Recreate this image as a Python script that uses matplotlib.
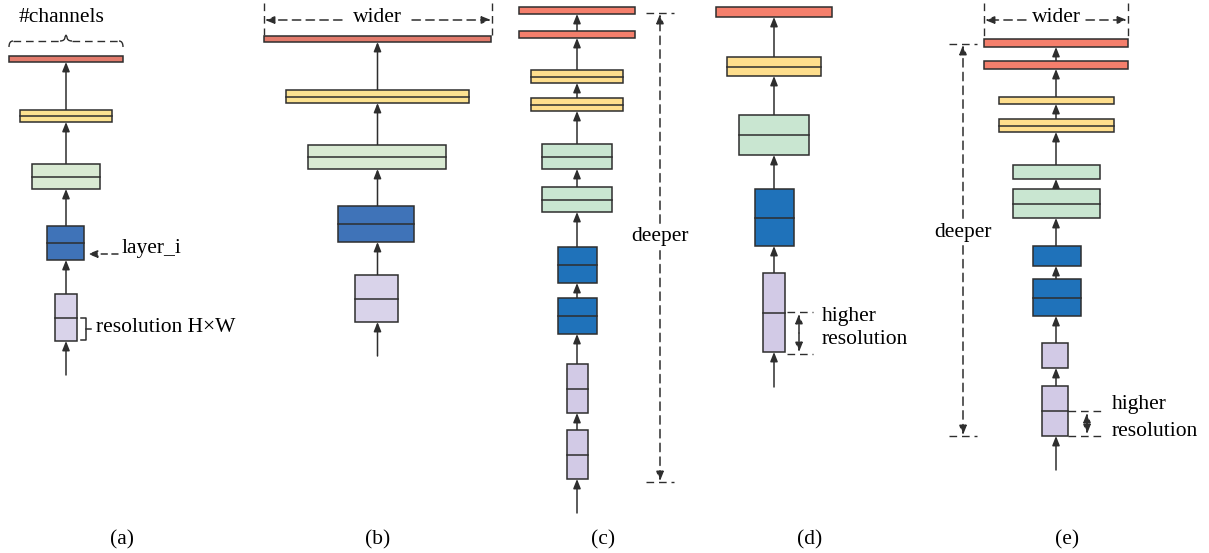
import matplotlib.pyplot as plt
from matplotlib.patches import Rectangle
from matplotlib.path import Path
from matplotlib.patches import PathPatch

plt.rcParams['font.family'] = ['Liberation Serif', 'DejaVu Serif']

W, H = 1209, 553
fig = plt.figure(figsize=(W / 100, H / 100), dpi=100)
ax = fig.add_axes([0, 0, 1, 1])
ax.set_xlim(0, W)
ax.set_ylim(H, 0)
ax.axis('off')

# palettes: (a),(b) vs (c),(d),(e)
pal1 = {'r': '#E27B6C', 'y': '#FCE290', 'g': '#D9EAD3', 'b': '#3F73B8', 'p': '#D9D3EA'}
pal2 = {'r': '#F47F6C', 'y': '#FEDE8D', 'g': '#C9E6D1', 'b': '#1F72BA', 'p': '#D2CAE6'}
EDGE = '#2e2e2e'

# blocks: (left, right, top, bottom, colour, split)  -- listed top to bottom
a_blocks = [(9, 123, 56, 62, 'r', False), (20, 112, 110, 122, 'y', True),
            (32, 100, 164, 189, 'g', True), (47, 84, 226, 260, 'b', True),
            (55, 77, 294, 341, 'p', True)]
b_blocks = [(264, 491, 36, 42, 'r', False), (286, 469, 90, 103, 'y', True),
            (308, 446, 145, 169, 'g', True), (338, 414, 206, 242, 'b', True),
            (355, 398, 275, 322, 'p', True)]
c_blocks = [(519, 635, 7, 14, 'r', False), (519, 635, 31, 38, 'r', False),
            (531, 623, 70, 83, 'y', True), (531, 623, 98, 111, 'y', True),
            (542, 612, 144, 169, 'g', True), (542, 612, 187, 212, 'g', True),
            (558, 597, 247, 283, 'b', True), (558, 597, 298, 334, 'b', True),
            (567, 588, 364, 413, 'p', True), (567, 588, 430, 479, 'p', True)]
d_blocks = [(716, 832, 7, 17, 'r', False), (727, 821, 57, 76, 'y', True),
            (739, 809, 115, 155, 'g', True), (755, 794, 189, 246, 'b', True),
            (763, 785, 273, 352, 'p', True)]
e_blocks = [(984, 1128, 39, 47, 'r', False), (984, 1128, 61, 69, 'r', False),
            (999, 1114, 97, 104, 'y', False), (999, 1114, 119, 132, 'y', True),
            (1013, 1100, 165, 179, 'g', False), (1013, 1100, 189, 218, 'g', True),
            (1033, 1081, 246, 266, 'b', False), (1033, 1081, 279, 316, 'b', True),
            (1042, 1068, 343, 368, 'p', False), (1042, 1068, 386, 436, 'p', True)]

panels = [(a_blocks, pal1, 375), (b_blocks, pal1, 356), (c_blocks, pal2, 513),
          (d_blocks, pal2, 387), (e_blocks, pal2, 470)]
labels = ['(a)', '(b)', '(c)', '(d)', '(e)']
label_x = [122, 378, 603, 810, 1067]

FS = 15.5
dash = (0, (5.5, 3.5))
arrow_kw = dict(arrowstyle='-|>,head_length=0.55,head_width=0.22', mutation_scale=10,
                lw=1.1, color=EDGE, shrinkA=0, shrinkB=0)


def arrow(x0, y0, x1, y1, ls='-'):
    kw = dict(arrow_kw)
    kw['linestyle'] = ls
    ax.annotate('', xy=(x1, y1), xytext=(x0, y0), arrowprops=kw)


def dline(xs, ys):
    ax.plot(xs, ys, color=EDGE, lw=1.0, linestyle=dash, solid_capstyle='butt')


for blocks, pal, y_in in panels:
    xc = (blocks[0][0] + blocks[0][1]) / 2
    for i, (l, r, t, b, c, split) in enumerate(blocks):
        ax.add_patch(Rectangle((l, t), r - l, b - t, facecolor=pal[c],
                               edgecolor=EDGE, lw=1.1, zorder=3))
        if split:
            m = (t + b) / 2
            ax.plot([l, r], [m, m], color=EDGE, lw=1.1, zorder=4)
        below = blocks[i + 1][2] if i + 1 < len(blocks) else y_in
        arrow(xc, below, xc, b)

for lab, x in zip(labels, label_x):
    ax.text(x, 540, lab, ha='center', va='center', fontsize=FS)

# (a) annotations
ax.text(62, 17, '#channels', ha='center', va='center', fontsize=FS)
dline([13, 60], [41, 41])
dline([72, 119], [41, 41])
curl = Path([(9, 47), (9, 41), (13, 41)], [Path.MOVETO, Path.CURVE3, Path.CURVE3])
ax.add_patch(PathPatch(curl, fill=False, edgecolor=EDGE, lw=1.0))
curl = Path([(123, 47), (123, 41), (119, 41)], [Path.MOVETO, Path.CURVE3, Path.CURVE3])
ax.add_patch(PathPatch(curl, fill=False, edgecolor=EDGE, lw=1.0))
peak = Path([(60, 41), (65, 41), (65, 37), (66, 35), (67, 37), (67, 41), (72, 41)],
            [Path.MOVETO, Path.CURVE3, Path.CURVE3, Path.LINETO, Path.LINETO,
             Path.CURVE3, Path.CURVE3])
ax.add_patch(PathPatch(peak, fill=False, edgecolor=EDGE, lw=1.0))
arrow(118, 254, 88, 254, ls=(0, (4, 3)))
ax.text(122, 248, 'layer_i', ha='left', va='center', fontsize=FS)
ax.plot([81, 86, 86, 81], [318, 318, 340, 340], color=EDGE, lw=1.1)
ax.plot([86, 91], [329, 329], color=EDGE, lw=1.1)
ax.text(96, 327, 'resolution H×W', ha='left', va='center', fontsize=FS)

# wider
for (x0, x1, xc, yb, gl, gr) in [(264, 492, 377, 35, 342, 412), (984, 1128, 1056, 39, 1026, 1086)]:
    dline([x0, x0], [3, yb])
    dline([x1, x1], [3, yb])
    arrow(gl, 20, x0 + 1, 20, ls=dash)
    arrow(gr, 20, x1 - 1, 20, ls=dash)
    ax.text(xc, 18, 'wider', ha='center', va='center', fontsize=FS)

# deeper
for (x, y0, y1, yt) in [(660, 13, 482, 237), (963, 44, 436, 232)]:
    dline([x - 14, x + 14], [y0, y0])
    dline([x - 14, x + 14], [y1, y1])
    arrow(x, yt, x, y0 + 1, ls=dash)
    arrow(x, yt, x, y1 - 1, ls=dash)
    ax.text(x, yt, 'deeper', ha='center', va='center', fontsize=FS, zorder=5,
            bbox=dict(facecolor='white', edgecolor='none', pad=2))

# higher resolution
for (x0, x1, xa, ym, yb, xt, yt1, yt2) in [(787, 813, 799, 312, 354, 822, 316, 340),
                                           (1068, 1102, 1087, 411, 436, 1112, 405, 432)]:
    dline([x0, x1], [ym, ym])
    dline([x0, x1], [yb, yb])
    mid = (ym + yb) / 2
    arrow(xa, mid, xa, ym + 2, ls=dash)
    arrow(xa, mid, xa, yb - 2, ls=dash)
    ax.text(xt, yt1, 'higher', ha='left', va='center', fontsize=FS)
    ax.text(xt, yt2, 'resolution', ha='left', va='center', fontsize=FS)

fig.savefig('out.png', dpi=100, facecolor='white')
